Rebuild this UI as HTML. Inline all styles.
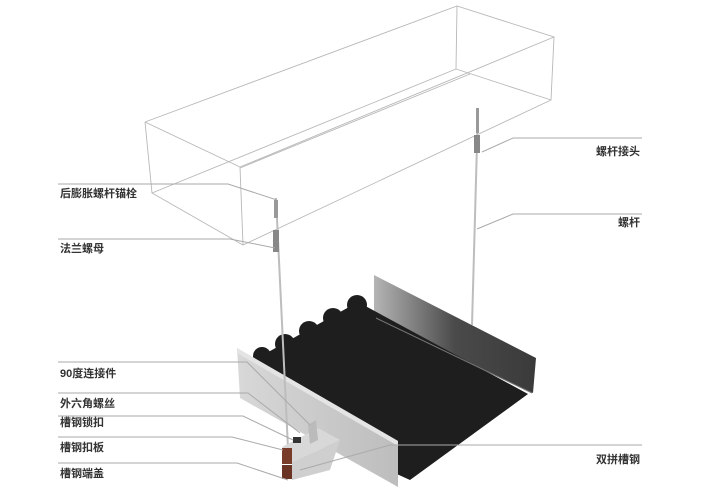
<!DOCTYPE html>
<html><head><meta charset="utf-8"><style>
html,body{margin:0;padding:0;background:#fff;}
svg{display:block}
text{font-family:"Liberation Sans","Noto Sans CJK SC",sans-serif;font-size:11px;font-weight:bold;fill:#333}
</style></head><body>
<svg width="712" height="504" viewBox="0 0 712 504" xmlns="http://www.w3.org/2000/svg">
<defs>
<linearGradient id="bw" x1="0" y1="0" x2="1" y2="0">
<stop offset="0" stop-color="#b5b5b5"/><stop offset="0.5" stop-color="#4a4a4a"/><stop offset="1" stop-color="#3a3a3a"/>
</linearGradient>
<linearGradient id="fw" x1="0" y1="0" x2="1" y2="0">
<stop offset="0" stop-color="#d8d8d8"/><stop offset="1" stop-color="#bdbdbd"/>
</linearGradient>
</defs>
<!-- wireframe box -->
<g stroke="#b8b8b8" stroke-width="0.9" fill="none">
<polyline points="145,122 457,6 554,37 551,100 243,245 152,193 145,122"/>
<line x1="145" y1="122" x2="240" y2="167"/>
<line x1="240" y1="167" x2="554" y2="37"/>
<line x1="240" y1="167" x2="243" y2="245"/>
<line x1="457" y1="6" x2="456" y2="69"/>
<line x1="456" y1="69" x2="551" y2="100"/>
<line x1="456" y1="69" x2="152" y2="193"/>
<line x1="470" y1="74" x2="240" y2="168"/>
</g>
<!-- back wall of channel -->
<polygon points="374,275 536,358 533,393 374,318" fill="url(#bw)"/>
<!-- black panel -->
<polygon points="254,360 358,302 528,394 410,480 300,430" fill="#1e1e1e"/>
<g fill="#1e1e1e">
<circle cx="262" cy="356" r="9"/><circle cx="285" cy="344" r="10"/><circle cx="309" cy="331" r="10"/><circle cx="333" cy="318" r="10"/><circle cx="357" cy="305" r="10"/>
</g>
<line x1="376" y1="318" x2="532" y2="393" stroke="#777" stroke-width="1"/>
<!-- front wall -->
<polygon points="237,348 398,441 398,487 240,398" fill="url(#fw)"/>
<polygon points="237,348 398,441 398,446 237,353" fill="#e4e4e4"/>
<!-- rods -->
<line x1="276" y1="198" x2="288" y2="448" stroke="#bdbdbd" stroke-width="2"/>
<rect x="273" y="230" width="6" height="22" fill="#888"/>
<rect x="274" y="200" width="4" height="18" fill="#999"/>
<line x1="478" y1="108" x2="472" y2="325" stroke="#bdbdbd" stroke-width="2"/>
<rect x="474" y="135" width="6" height="18" fill="#888"/>
<rect x="476" y="108" width="3" height="25" fill="#999"/>
<!-- connector & channel bar -->
<polygon points="282,447 318,428 340,440 292,462" fill="#d8d8d8"/>
<polygon points="308,425 316,420 318,440 310,444" fill="#bbb"/>
<rect x="293" y="437" width="8" height="6" fill="#333"/>
<polygon points="292,462 340,440 330,470 292,480" fill="#cfcfcf"/>
<rect x="282" y="448" width="10" height="16" fill="#7a3c2a"/>
<rect x="282" y="465" width="10" height="14" fill="#6a3424"/>
<!-- leader lines -->
<g stroke="#aaa" stroke-width="1" fill="none">
<polyline points="58,184 228,184 277,200"/>
<polyline points="58,239 230,239 275,248"/>
<polyline points="58,362 247,362 310,425"/>
<polyline points="58,393 248,393 300,433"/>
<polyline points="58,416 243,416 293,440"/>
<polyline points="58,437 232,437 283,450"/>
<polyline points="58,463 237,463 288,480"/>
<polyline points="642,138 513,138 482,152"/>
<polyline points="642,214 513,214 477,229"/>
<polyline points="642,445 390,445 300,470"/>
</g>
<!-- labels -->
<text x="60" y="197">后膨胀螺杆锚栓</text>
<text x="60" y="252">法兰螺母</text>
<text x="60" y="377">90度连接件</text>
<text x="60" y="407">外六角螺丝</text>
<text x="60" y="426">槽钢锁扣</text>
<text x="60" y="451">槽钢扣板</text>
<text x="60" y="477">槽钢端盖</text>
<text x="640" y="155" text-anchor="end">螺杆接头</text>
<text x="640" y="226" text-anchor="end">螺杆</text>
<text x="640" y="463" text-anchor="end">双拼槽钢</text>
</svg>
</body></html>
